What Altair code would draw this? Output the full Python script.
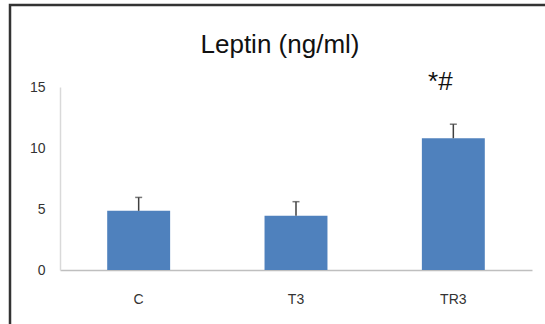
import altair as alt
import pandas as pd

groups = ["C", "T3", "TR3"]
means = [4.85, 4.45, 10.8]
errors = [1.1, 1.15, 1.15]
marks = ["", "", "*#"]

df = pd.DataFrame({"group": groups, "mean": means, "err": errors, "mark": marks})
df["top"] = df["mean"] + df["err"]

x_enc = alt.X("group:N", sort=groups, title=None,
              scale=alt.Scale(paddingInner=0.6, paddingOuter=0.3),
              axis=alt.Axis(labelAngle=0, ticks=False, labelPadding=22, labelFontSize=14,
                            labelFont="Liberation Sans", labelColor="#333",
                            domainColor="#bfbfbf", domainWidth=1.5, grid=False))
y_scale = alt.Scale(domain=[0, 15])

base = alt.Chart(df)

bars = base.mark_bar(color="#4F81BD").encode(
    x=x_enc,
    y=alt.Y("mean:Q", scale=y_scale, title=None,
            axis=alt.Axis(values=[0, 5, 10, 15], ticks=False, grid=False, labelPadding=15,
                          labelFontSize=14, labelFont="Liberation Sans", labelColor="#333",
                          domainColor="#d9d9d9", domainWidth=1.5)),
)

err_rule = base.mark_rule(color="#404040", strokeWidth=1.5).encode(
    x=alt.X("group:N", sort=groups),
    y=alt.Y("mean:Q", scale=y_scale),
    y2="top:Q",
)

err_cap = base.mark_tick(color="#404040", thickness=1.5, size=7, orient="horizontal").encode(
    x=alt.X("group:N", sort=groups),
    y=alt.Y("top:Q", scale=y_scale),
)

annot = base.mark_text(fontSize=26, font="Liberation Sans", color="#111", baseline="middle", dx=-13).encode(
    x=alt.X("group:N", sort=groups),
    y=alt.value(-5),
    text="mark:N",
)

title_txt = alt.Chart(pd.DataFrame({"t": ["Leptin (ng/ml)"]})).mark_text(
    fontSize=26, font="Liberation Sans", color="#111", baseline="middle"
).encode(x=alt.value(220), y=alt.value(-42), text="t:N")

frame = alt.Chart(pd.DataFrame({"a": [0]})).mark_rect(
    fill=None, stroke="#333333", strokeWidth=2.5
).encode(x=alt.value(-50), x2=alt.value(560), y=alt.value(-82), y2=alt.value(260))

chart = alt.layer(frame, bars, err_rule, err_cap, annot, title_txt).properties(
    width=472, height=183,
    autosize=alt.AutoSizeParams(type="none"),
    padding={"left": 60, "top": 87, "right": 13, "bottom": 54},
    background="white",
).configure_view(stroke=None)

chart.save("out.html", embed_options={"renderer": "svg", "actions": False})
